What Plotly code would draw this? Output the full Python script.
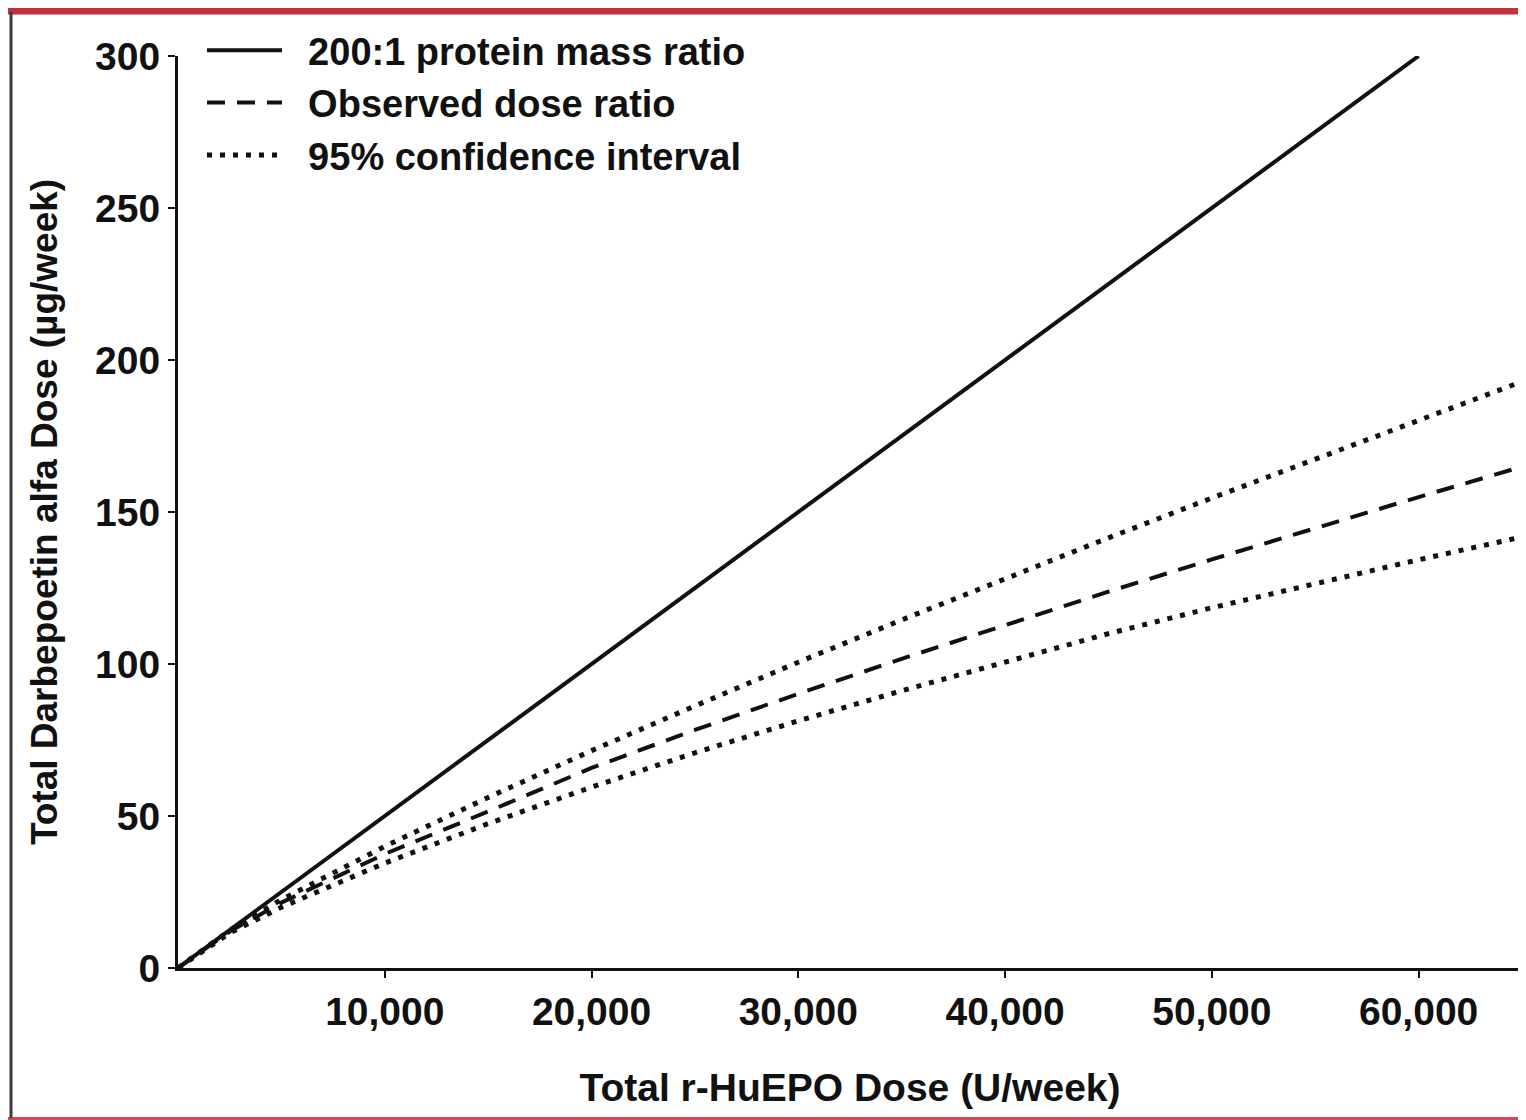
import plotly.graph_objects as go

# Data
epo_dose = [0, 2500, 5000, 10000, 15000, 20000, 25000, 30000, 35000, 40000,
            45000, 50000, 55000, 60000, 65000]
ratio_x = [0, 60000]
ratio_y = [0, 300]
observed = [0, 12.0, 21.5, 37.5, 51.5, 65.8, 78.3, 90.2, 101.7, 112.9,
            123.8, 134.4, 144.8, 154.9, 164.9]
ci_upper = [0, 12.4, 22.5, 40.0, 56.1, 71.5, 86.2, 100.6, 114.5, 128.1,
            141.5, 154.6, 167.5, 180.3, 192.9]
ci_lower = [0, 11.5, 20.0, 34.5, 47.5, 59.5, 70.8, 81.3, 91.2, 100.8,
            110.0, 118.5, 126.5, 134.3, 141.8]

x_ticks = [10000, 20000, 30000, 40000, 50000, 60000]
x_ticktext = ["10,000", "20,000", "30,000", "40,000", "50,000", "60,000"]
y_ticks = [0, 50, 100, 150, 200, 250, 300]

FONT = "Liberation Sans, Arial, sans-serif"
INK = "#111111"
GAP = "\u00a0\u00a0"

fig = go.Figure()
fig.add_trace(go.Scatter(x=ratio_x, y=ratio_y, mode="lines",
                         name=GAP + "200:1 protein mass ratio",
                         line=dict(color=INK, width=4)))
fig.add_trace(go.Scatter(x=epo_dose, y=observed, mode="lines",
                         name=GAP + "Observed dose ratio",
                         line=dict(color=INK, width=4, dash="18px,12px")))
fig.add_trace(go.Scatter(x=epo_dose, y=ci_upper, mode="lines",
                         name=GAP + "95% confidence interval", legendgroup="ci",
                         line=dict(color=INK, width=5, dash="5px,8px")))
fig.add_trace(go.Scatter(x=epo_dose, y=ci_lower, mode="lines",
                         name=GAP + "95% confidence interval", legendgroup="ci",
                         showlegend=False,
                         line=dict(color=INK, width=5, dash="5px,8px")))

# page is rendered with an 8px body margin
OFF = 8
W, H = 1518, 1112
L, R, T, B = 170, 4, 48, 152

def px_x(px):
    return (px - OFF - L) / (W - L - R)

def px_y(py):
    return (H - B - (py - OFF)) / (H - T - B)

shapes = [
    dict(type="line", xref="paper", yref="paper", x0=px_x(0), x1=px_x(1530),
         y0=px_y(11), y1=px_y(11), line=dict(color="#c23040", width=7)),
    dict(type="line", xref="paper", yref="paper", x0=px_x(0), x1=px_x(1530),
         y0=px_y(1118.5), y1=px_y(1118.5), line=dict(color="#d04a58", width=3)),
    dict(type="line", xref="paper", yref="paper", x0=px_x(11), x1=px_x(11),
         y0=px_y(12), y1=px_y(1118), line=dict(color="#3a3a3a", width=3)),
]

fig.update_layout(
    width=W, height=H,
    margin=dict(l=L, r=R, t=T, b=B),
    paper_bgcolor="white", plot_bgcolor="white",
    font=dict(family=FONT, size=39, color=INK, weight="bold"),
    showlegend=True,
    legend=dict(x=px_x(202), y=px_y(19), xanchor="left", yanchor="top",
                bgcolor="rgba(0,0,0,0)", font=dict(size=38, weight="bold"),
                itemwidth=75, tracegroupgap=0),
    xaxis=dict(range=[0, 65000], tickvals=x_ticks, ticktext=x_ticktext,
               showgrid=False, zeroline=False, showline=True,
               linecolor=INK, linewidth=3, ticks="outside", ticklen=7,
               tickwidth=2, tickcolor=INK,
               tickfont=dict(size=39, weight="bold"),
               title=dict(text="Total r-HuEPO Dose (U/week)", standoff=42,
                          font=dict(size=39, weight="bold"))),
    yaxis=dict(range=[0, 300], tickvals=y_ticks,
               showgrid=False, zeroline=False, showline=True,
               linecolor=INK, linewidth=3, ticks="outside", ticklen=7,
               tickwidth=2, tickcolor=INK,
               tickfont=dict(size=39, weight="bold"),
               title=dict(text="Total Darbepoetin alfa Dose (µg/week)",
                          standoff=27, font=dict(size=37, weight="bold"))),
    shapes=shapes,
)

fig.write_html("out.html")
